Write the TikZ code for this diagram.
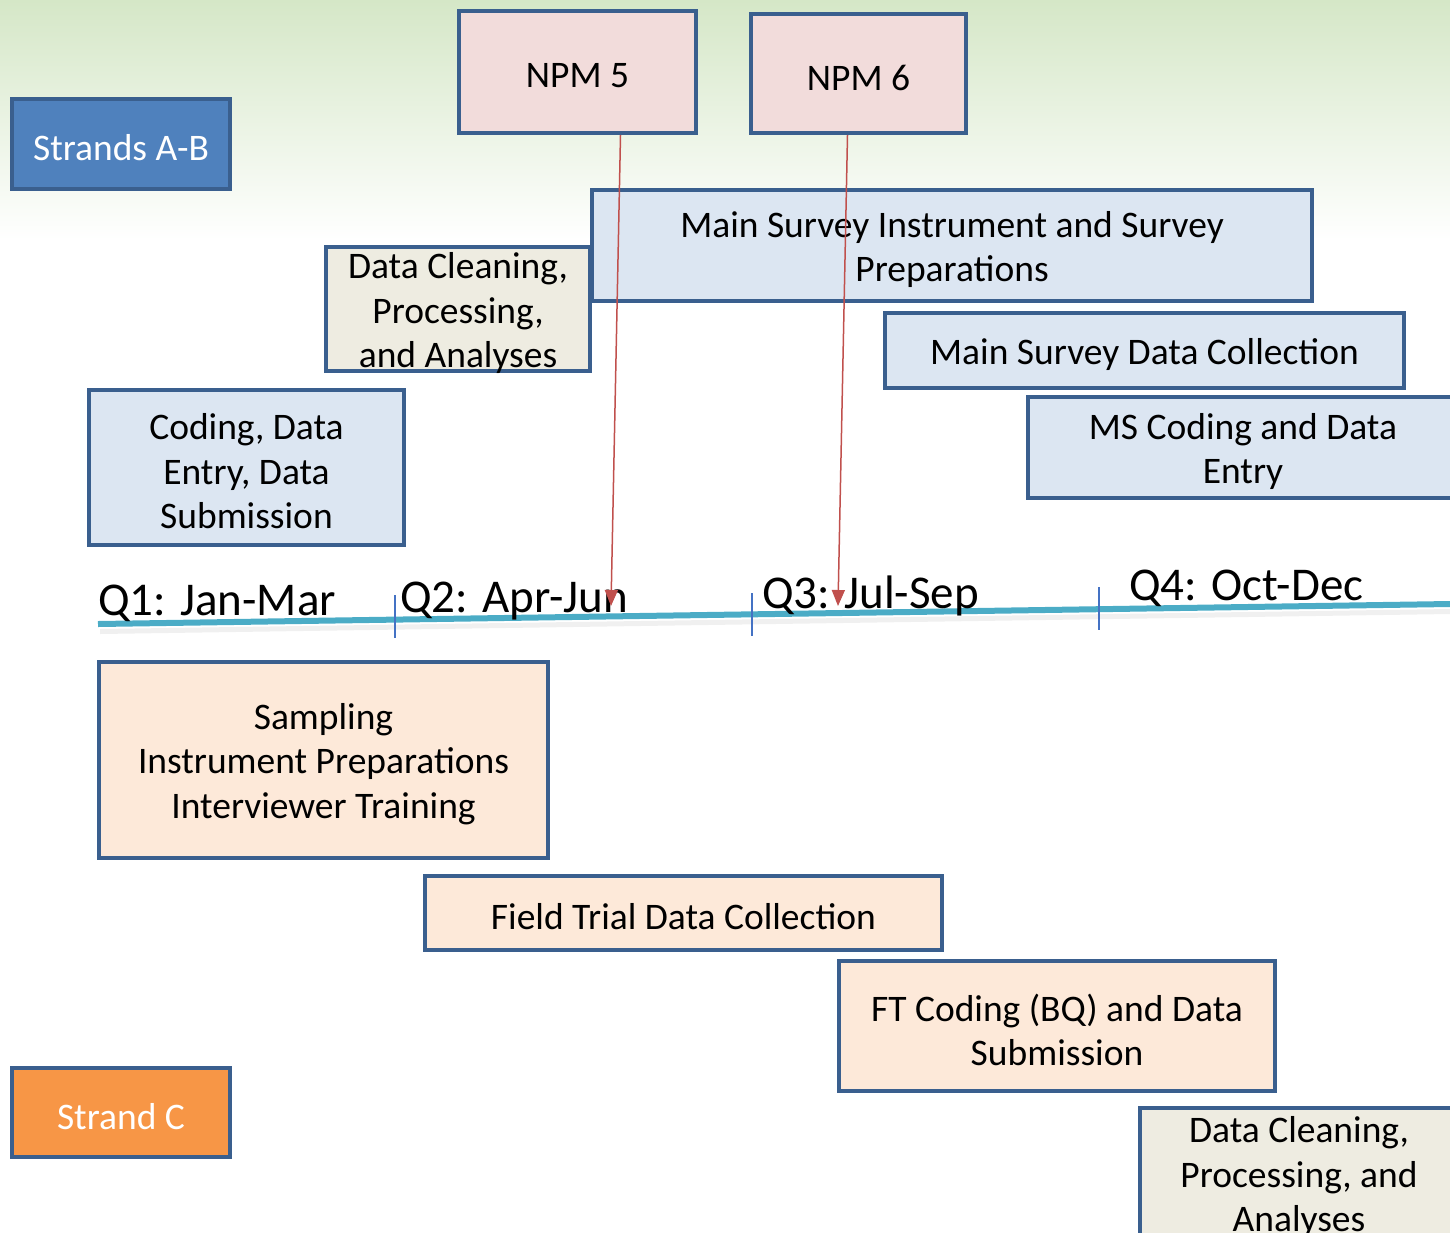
\documentclass[tikz,border=0pt]{standalone}
\usepackage{fontspec}
\setmainfont{Carlito}
\usetikzlibrary{arrows.meta}

\definecolor{topgreen}{RGB}{213,231,199}
\definecolor{boxline}{RGB}{58,95,142}
\definecolor{strandblue}{RGB}{79,129,189}
\definecolor{strandorange}{RGB}{247,150,70}
\definecolor{npmfill}{RGB}{242,220,219}
\definecolor{msfill}{RGB}{220,230,242}
\definecolor{cleanfill}{RGB}{238,236,225}
\definecolor{ftfill}{RGB}{253,233,217}
\definecolor{timeline}{RGB}{75,172,198}
\definecolor{tickblue}{RGB}{68,114,196}
\definecolor{npmred}{RGB}{192,80,77}

\tikzset{
  box/.style={draw=boxline, line width=4pt, rectangle, inner sep=0pt},
  boxtext/.style={align=center, inner sep=0pt, yshift=-4pt,
    font=\fontsize{37.5}{44.5}\selectfont},
  quarter/.style={anchor=base west, inner sep=0pt, font=\fontsize{47}{56}\selectfont},
  npmarrow/.style={-{Triangle[length=16pt,width=13pt]}, npmred, line width=1.5pt}
}

\begin{document}
\begin{tikzpicture}[x=1pt, y=-1pt]
      \useasboundingbox (0,0) rectangle (1450,1232);
      \shade[top color=topgreen, bottom color=white] (0,0) rectangle (1450,240);
      \clip (0,0) rectangle (1450,1232);

      \node[box, fill=strandblue, minimum width=218pt, minimum height=90pt, label={[boxtext, text=white]center:Strands A-B}] (sab) at (121,144) {};
      \node[box, fill=npmfill, minimum width=237pt, minimum height=122pt, label={[boxtext]center:NPM 5}] (npm5) at (577.5,72) {};
      \node[box, fill=npmfill, minimum width=215pt, minimum height=119pt, label={[boxtext]center:NPM 6}] (npm6) at (858.5,73.5) {};
      \node[box, fill=msfill, minimum width=720pt, minimum height=111pt, label={[boxtext]center:{Main Survey Instrument and Survey\\Preparations}}] (msprep) at (952,245.5) {};
      \node[box, fill=cleanfill, minimum width=264pt, minimum height=124pt, label={[boxtext]center:{Data Cleaning,\\Processing,\\and Analyses}}] (clean1) at (458,309) {};
      \node[box, fill=msfill, minimum width=519pt, minimum height=75pt, label={[boxtext]center:Main Survey Data Collection}] (mscollect) at (1144.5,350.5) {};
      \node[box, fill=msfill, minimum width=430pt, minimum height=101pt, label={[boxtext]center:{MS Coding and Data\\Entry}}] (mscode) at (1243,447.5) {};
      \node[box, fill=msfill, minimum width=315pt, minimum height=155pt, label={[boxtext]center:{Coding, Data\\Entry, Data\\Submission}}] (coding) at (246.5,467.5) {};

      \fill[black, opacity=0.06] (100,629) -- (1450,609) -- (1450,614) -- (100,634) -- cycle;
      \draw[timeline, line width=6pt] (98,624) -- (1450,604);
      \draw[tickblue, line width=1.5pt] (395,595) -- (395,638);
      \draw[tickblue, line width=1.5pt] (752,593) -- (752,636);
      \draw[tickblue, line width=1.5pt] (1099,587) -- (1099,630);
      \node[quarter] (q1) at (98,615) {Q1: Jan-Mar};
      \node[quarter] (q2) at (400,612) {Q2: Apr-Jun};
      \node[quarter] (q3) at (762,608) {Q3: Jul-Sep};
      \node[quarter] (q4) at (1129,600) {Q4: Oct-Dec};

      \coordinate (t5) at (611,606);
      \coordinate (t6) at (838,606);
      \draw[npmarrow] ([xshift=43pt]npm5.south) -- (t5);
      \draw[npmarrow] ([xshift=-11pt]npm6.south) -- (t6);

      \node[box, fill=ftfill, minimum width=449pt, minimum height=196pt, label={[boxtext]center:{Sampling\\Instrument Preparations\\Interviewer Training}}] (sampling) at (323.5,760) {};
      \node[box, fill=ftfill, minimum width=517pt, minimum height=74pt, label={[boxtext]center:Field Trial Data Collection}] (ftcollect) at (683.5,913) {};
      \node[box, fill=ftfill, minimum width=436pt, minimum height=130pt, label={[boxtext]center:{FT Coding (BQ) and Data\\Submission}}] (ftcode) at (1057,1026) {};
      \node[box, fill=strandorange, minimum width=218pt, minimum height=89pt, label={[boxtext, text=white]center:Strand C}] (sc) at (121,1112.5) {};
      \node[box, fill=cleanfill, minimum width=318pt, minimum height=130pt, label={[boxtext]center:{Data Cleaning,\\Processing, and\\Analyses}}] (clean2) at (1299,1173) {};
    \end{tikzpicture}
\end{document}
